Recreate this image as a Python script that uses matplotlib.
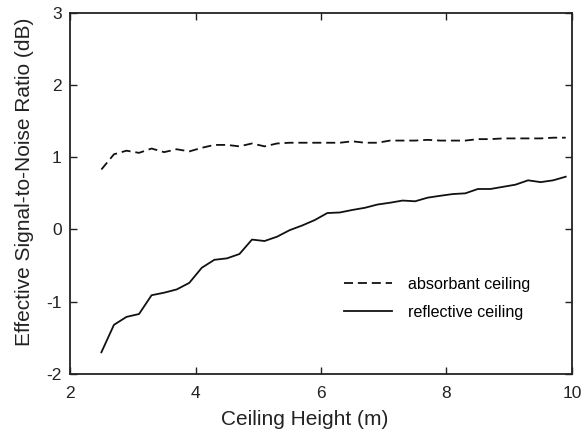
import matplotlib
matplotlib.use("Agg")
import matplotlib.pyplot as plt
import numpy as np

# ceiling heights (m)
height = [2.5, 2.7, 2.9, 3.1, 3.3, 3.5, 3.7, 3.9, 4.1, 4.3, 4.5, 4.7, 4.9,
          5.1, 5.3, 5.5, 5.7, 5.9, 6.1, 6.3, 6.5, 6.7, 6.9, 7.1, 7.3, 7.5,
          7.7, 7.9, 8.1, 8.3, 8.5, 8.7, 8.9, 9.1, 9.3, 9.5, 9.7, 9.9]

absorbant = [0.83, 1.04, 1.09, 1.06, 1.12, 1.07, 1.11, 1.08, 1.13, 1.17,
             1.17, 1.15, 1.19, 1.15, 1.19, 1.20, 1.20, 1.20, 1.20, 1.20,
             1.22, 1.20, 1.20, 1.23, 1.23, 1.23, 1.24, 1.23, 1.23, 1.23,
             1.25, 1.25, 1.26, 1.26, 1.26, 1.26, 1.27, 1.27]

reflective = [-1.70, -1.32, -1.21, -1.17, -0.91, -0.875, -0.83, -0.74, -0.53,
              -0.42, -0.40, -0.34, -0.14, -0.16, -0.10, -0.01, 0.055, 0.13,
              0.227, 0.235, 0.27, 0.30, 0.345, 0.37, 0.40, 0.39, 0.44, 0.466,
              0.49, 0.50, 0.56, 0.56, 0.59, 0.62, 0.68, 0.655, 0.68, 0.73]

plt.rcParams.update({
    'font.family': ['Liberation Sans', 'DejaVu Sans'],
    'font.size': 12,
    'axes.unicode_minus': False,
})

fig = plt.figure(figsize=(5.81, 4.37), dpi=100)
ax = fig.add_axes([0.1205, 0.1442, 0.8640, 0.8268])

ax.plot(height, absorbant, color='#111111', linewidth=1.3,
        linestyle=(0, (5, 2.7)), label='absorbant ceiling')
ax.plot(height, reflective, color='#111111', linewidth=1.3,
        label='reflective ceiling')

ax.set_xlim(2, 10)
ax.set_ylim(-2, 3)
ax.set_xticks([2, 4, 6, 8, 10])
ax.set_yticks([-2, -1, 0, 1, 2, 3])
ax.tick_params(direction='in', length=5, width=1, top=True, right=True,
               labelsize=12.5, pad=6, colors='#222222')
ax.tick_params(axis='x', pad=9)
for sp in ax.spines.values():
    sp.set_linewidth(1.3)
    sp.set_color('#222222')

ax.set_xlabel('Ceiling Height (m)', fontsize=15, color='#222222')
ax.set_ylabel('Effective Signal-to-Noise Ratio (dB)', fontsize=15,
              color='#222222')
ax.xaxis.set_label_coords(0.468, -0.0997)
ax.yaxis.set_label_coords(-0.0717, 0.532)

ax.legend(loc='lower right', bbox_to_anchor=(0.946, 0.11), frameon=False,
          fontsize=11.6, handlelength=3.0, handletextpad=1.0, labelspacing=0.8)

plt.savefig('out.png', dpi=100)
